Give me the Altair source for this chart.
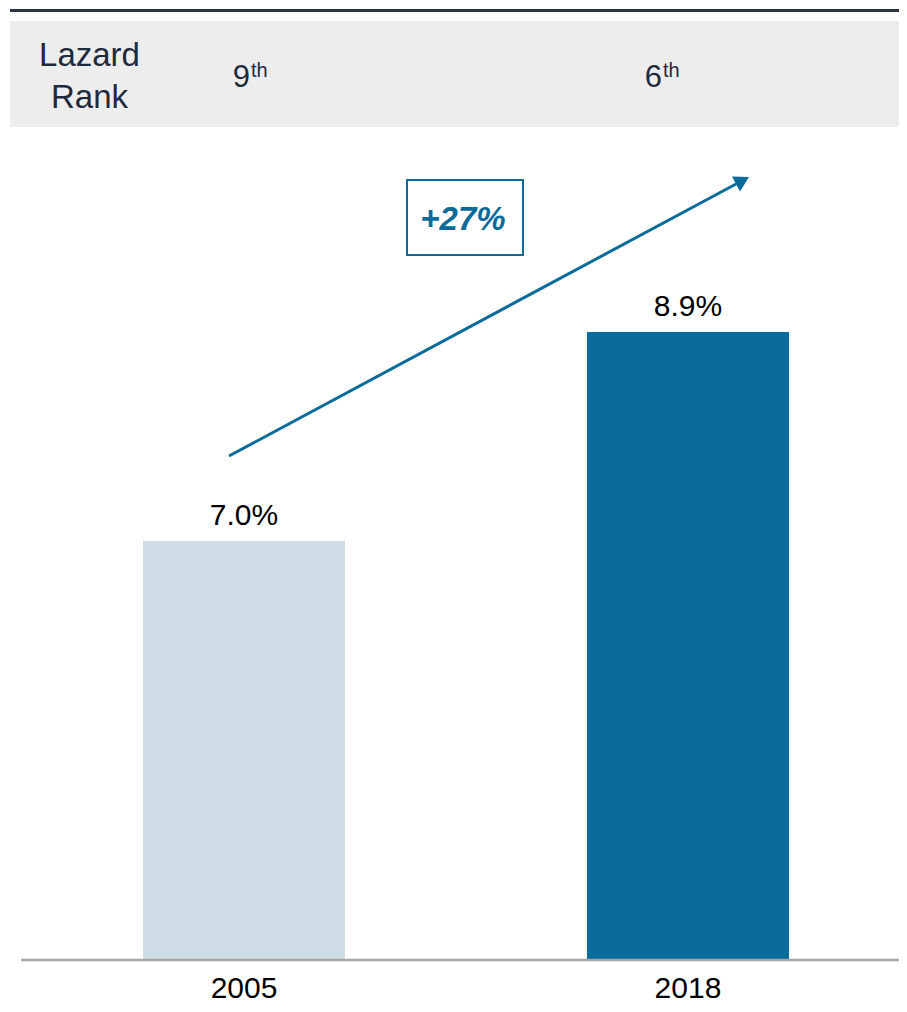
import altair as alt
import pandas as pd

# ---- data ----
years = ["2005", "2018"]
share = [7.0, 8.9]
share_labels = ["7.0%", "8.9%"]
ranks = ["9", "6"]
rank_suffix = ["th", "th"]
row_label = ["Lazard", "Rank"]
growth_label = "+27%"

# ---- styles ----
FONT = "Liberation Sans"
DARK_TEXT = "#1f2a3c"
BLUE = "#0b6b9a"
bar_colors = ["#cfdde7", "#0b6b9a"]

df = pd.DataFrame({"year": years, "share": share, "label": share_labels,
                   "rank": ranks, "suffix": rank_suffix})
one = pd.DataFrame({"k": [0]})

W = 891
Y0 = 3.2
xscale = alt.Scale(domain=years, range=[135, 781], paddingInner=0.545, paddingOuter=0)
yscale = alt.Scale(domain=[Y0, 11.845], zero=False, nice=False)

def xenc():
    return alt.X("year:N", sort=years, scale=xscale, axis=None)

# decorations
top_line = alt.Chart(one).mark_rule(color="#2c3447", strokeWidth=3).encode(
    x=alt.value(2), x2=alt.value(W), y=alt.value(2.5))
band = alt.Chart(one).mark_rect(color="#ecedec").encode(
    x=alt.value(2), x2=alt.value(W), y=alt.value(13), y2=alt.value(119))
lazard = alt.Chart(one).mark_text(text=row_label[0], fontSize=33, font=FONT,
                                  color=DARK_TEXT, align="center", baseline="alphabetic").encode(
    x=alt.value(81.5), y=alt.value(58))
rank_t = alt.Chart(one).mark_text(text=row_label[1], fontSize=33, font=FONT,
                                  color=DARK_TEXT, align="center", baseline="alphabetic").encode(
    x=alt.value(81.5), y=alt.value(100))

rank_layers = []
for yr, dx in zip(years, [6, -26]):
    base = alt.Chart(df).transform_filter(alt.datum.year == yr)
    rank_layers.append(base.mark_text(align="right", baseline="alphabetic", fontSize=31,
                                      font=FONT, color=DARK_TEXT, dx=dx).encode(
        x=xenc(), y=alt.value(79), text="rank:N"))
    rank_layers.append(base.mark_text(align="left", baseline="alphabetic", fontSize=20,
                                      font=FONT, color=DARK_TEXT, dx=dx + 1).encode(
        x=xenc(), y=alt.value(69), text="suffix:N"))

bars = alt.Chart(df).mark_bar().encode(
    x=xenc(),
    y=alt.Y("share:Q", scale=yscale, axis=None),
    y2=alt.datum(Y0),
    color=alt.Color("year:N", scale=alt.Scale(domain=years, range=bar_colors), legend=None),
)
value_labels = alt.Chart(df).mark_text(dy=-16, baseline="alphabetic", fontSize=30,
                                       font=FONT, color="#000000").encode(
    x=xenc(),
    y=alt.Y("share:Q", scale=yscale),
    text="label:N")
year_labels = alt.Chart(df).mark_text(baseline="alphabetic", fontSize=30, font=FONT,
                                      color="#000000").encode(
    x=xenc(), y=alt.value(990), text="year:N")

baseline = alt.Chart(one).mark_rule(color="#a6a6a6", strokeWidth=2.5).encode(
    x=alt.value(13), x2=alt.value(W), y=alt.value(952))

# growth arrow and box
arrow_line = alt.Chart(one).mark_rule(color=BLUE, strokeWidth=3).encode(
    x=alt.value(221), y=alt.value(448), x2=alt.value(728.5), y2=alt.value(175.7))
arrow_head = alt.Chart(one).mark_point(shape="triangle-up", size=289, filled=True,
                                       color=BLUE, opacity=1, angle=61.8).encode(
    x=alt.value(734.5), y=alt.value(172.5))
box = alt.Chart(one).mark_rect(fill="white", stroke=BLUE, strokeWidth=2).encode(
    x=alt.value(399), x2=alt.value(515), y=alt.value(172), y2=alt.value(247))
box_text = alt.Chart(one).mark_text(text=growth_label, fontSize=33, font=FONT,
                                    fontWeight="bold", fontStyle="italic", color=BLUE,
                                    align="center", baseline="alphabetic").encode(
    x=alt.value(455), y=alt.value(222))

chart = alt.layer(
    top_line, band, lazard, rank_t, *rank_layers,
    bars, value_labels, year_labels, baseline, arrow_line, arrow_head, box, box_text,
).properties(
    width=W, height=951,
    padding={"left": 0, "top": 0, "right": 0, "bottom": 45},
    autosize=alt.AutoSizeParams(type="none"),
).configure_view(strokeWidth=0)

chart.save("out.html", embed_options={"renderer": "svg", "actions": False})
